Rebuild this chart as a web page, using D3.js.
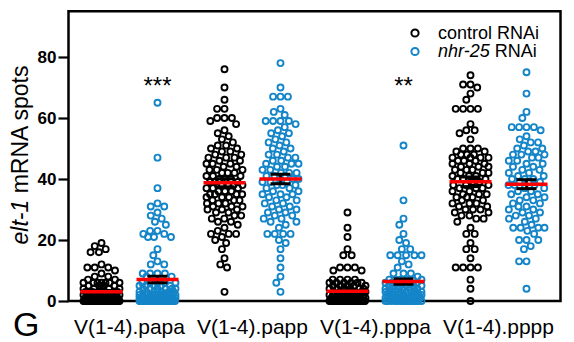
<!DOCTYPE html>
<html>
<head>
<meta charset="utf-8">
<script src="https://cdn.jsdelivr.net/npm/d3@7"></script>
<style>
  html, body { margin: 0; padding: 0; background: #fff; }
  svg { display: block; font-family: "Liberation Sans", Arial, sans-serif; }
</style>
</head>
<body>
<svg id="chart" width="574" height="342"></svg>
<script>
// ---------------- DATA ----------------
const categories = ["V(1-4).papa", "V(1-4).papp", "V(1-4).pppa", "V(1-4).pppp"];
const seriesNames = ["control RNAi", "nhr-25 RNAi"];
const yTicks = [0, 20, 40, 60, 80];
const significance = ["***", "", "**", ""];

const papaControl = [19,18,17,16,16,12,11,11,11,10,9,8,8,7,7,6,6,6,6,6,6,6,
  5,5,5,5,4,4,4,4,4,3,3,3,3,3,3,3,2,2,2,2,2,2,2,2,2,2,
  1,1,1,1,1,1,1,1,1,1,1,1,1,1,
  0,0,0,0,0,0,0,0,0,0,0,0,0,0,0,0,0,0,0,0,0,0,0,0,0,0,0,0,0,0,
  0,0,0,0,0,0,0,0,0,0,0,0,0];
const papaNhr25 = [65,47,37,32,31,31,29,28,27,26,25,23,23,22,22,21,21,21,17,15,13,12,12,9,9,9,9,8,8,
  6,6,6,6,6,5,5,5,5,5,4,4,4,4,4,4,3,3,3,3,3,3,3,2,2,2,2,2,2,2,2,2,2,2,2,
  1,1,1,1,1,1,1,1,1,1,1,1,1,1,
  0,0,0,0,0,0,0,0,0,0,0,0,0,0,0,0,0,0,0,0,0,0,0,0,0,0,0,0,0,0,0,0,0,0];
const pappControl = [76,70,66,63,63,60,60,60,59,58,56,55,54,53,52,51,51,50,50,49,
  49,48,48,47,47,47,46,46,45,45,45,44,44,43,43,43,42,42,42,41,41,41,40,40,40,
  39,39,39,38,38,38,38,37,37,37,36,36,36,35,35,35,35,34,34,34,33,33,33,32,32,
  32,31,31,31,30,30,30,29,29,28,28,27,27,26,26,25,24,23,22,22,22,21,20,19,17,14,12,11,3];
const pappNhr25 = [78,70,67,67,67,63,62,61,59,59,59,59,58,57,56,55,55,54,53,52,52,51,50,50,49,48,48,
  47,47,46,46,45,45,45,44,44,43,43,42,42,42,41,41,41,40,40,40,39,39,39,38,38,38,37,37,
  36,36,35,35,35,34,34,33,33,32,32,31,31,30,30,29,29,28,28,27,27,26,26,25,24,
  22,22,22,22,20,19,17,14,11,8,6,3];
const pppaControl = [29,24,21,17,15,15,11,11,11,10,10,7,7,7,7,6,6,6,6,6,6,
  5,5,5,5,5,4,4,4,4,4,4,3,3,3,3,3,3,3,2,2,2,2,2,2,2,2,2,2,
  1,1,1,1,1,1,1,1,1,1,1,1,
  0,0,0,0,0,0,0,0,0,0,0,0,0,0,0,0,0,0,0,0,0,0,0,0,0,0,0,0,0,0,
  0,0,0,0,0,0,0,0,0,0,0,0,0,0,0];
const pppaNhr25 = [51,33,27,25,22,20,19,17,17,15,15,15,15,15,13,12,11,9,9,9,8,7,7,7,7,7,7,
  6,6,6,6,6,6,5,5,5,5,5,5,4,4,4,4,4,4,4,3,3,3,3,3,3,3,3,
  2,2,2,2,2,2,2,2,2,2,1,1,1,1,1,1,1,1,1,1,
  0,0,0,0,0,0,0,0,0,0,0,0,0,0,0];
const ppppControl = [74,71,71,70,68,66,63,63,63,63,58,56,56,55,53,50,50,50,49,49,48,48,48,47,47,47,47,
  46,46,46,45,45,45,44,44,44,43,43,43,42,42,42,41,41,41,40,40,40,39,39,38,38,38,
  37,37,37,36,36,35,35,35,34,34,34,33,33,32,32,32,31,31,30,30,30,29,29,28,28,27,27,
  26,24,22,22,19,17,17,14,11,11,11,11,7,4,0];
const ppppNhr25 = [75,68,62,60,57,57,57,57,56,54,53,52,52,51,50,50,49,49,48,48,48,47,47,46,46,45,45,
  44,44,43,43,42,42,41,41,40,40,40,39,39,39,38,38,38,37,37,36,36,35,35,34,34,33,33,
  32,32,31,31,30,30,29,29,28,28,27,27,26,25,24,24,24,24,23,22,20,20,20,18,17,13,13,4];

const controlSeries = [papaControl, pappControl, pppaControl, ppppControl];
const nhr25Series = [papaNhr25, pappNhr25, pppaNhr25, ppppNhr25];
const seriesColors = ["#000000", "#1485c8"];

// ---------------- LAYOUT ----------------
const svg = d3.select("#chart");
const plotLeft = 68.5, plotRight = 560.5, plotBottom = 301;

const y = d3.scaleLinear().domain([0, 80]).range([plotBottom, 57]);
const yTop = y(95);
const x = d3.scaleBand().domain(categories).range([68, 560]);
const xSub = d3.scalePoint().domain(seriesNames).range([-28, 28]);

// frame
svg.append("rect")
  .attr("x", plotLeft).attr("y", yTop)
  .attr("width", plotRight - plotLeft).attr("height", plotBottom - yTop)
  .attr("fill", "none").attr("stroke", "#000").attr("stroke-width", 2.5);

// y axis
const yAxis = svg.append("g")
  .attr("transform", `translate(${plotLeft},0)`)
  .call(d3.axisLeft(y).tickValues(yTicks).tickSize(10).tickPadding(2).tickFormat(d3.format("d")));
yAxis.select(".domain").remove();
yAxis.selectAll(".tick line").attr("stroke", "#000").attr("stroke-width", 2.2);
yAxis.selectAll(".tick text")
  .attr("fill", "#000").style("font-size", "17px").style("font-weight", "bold")
  .style("font-family", "'Liberation Sans', Arial, sans-serif");

// y label
const yl = svg.append("text")
  .attr("transform", "translate(28,155) rotate(-90)")
  .attr("text-anchor", "middle").style("font-size", "23px").attr("fill", "#000");
yl.append("tspan").style("font-style", "italic").text("elt-1");
yl.append("tspan").text(" mRNA spots");

// x labels
svg.append("g").selectAll("text").data(categories).join("text")
  .attr("x", d => x(d) + x.bandwidth() / 2)
  .attr("y", 334)
  .attr("text-anchor", "middle").style("font-size", "21px").attr("fill", "#000")
  .text(d => d);

// panel letter
svg.append("text").attr("x", 13).attr("y", 336).style("font-size", "34px").attr("fill", "#000").text("G");

// beeswarm layout
const R = 3, D = 7.4, MAXHALF = 18;
function swarm(values) {
  const pts = values.map(v => ({ v, py: y(v) })).sort((a, b) => b.v - a.v);
  const placed = [];
  for (const p of pts) {
    const near = placed.filter(q => Math.abs(q.py - p.py) < D);
    const cands = [0];
    for (const q of near) {
      const dx = Math.sqrt(D * D - (q.py - p.py) ** 2);
      cands.push(q.x + dx, q.x - dx);
    }
    cands.sort((a, b) => Math.abs(a) - Math.abs(b) || a - b);
    let chosen = null;
    for (const c of cands) {
      if (Math.abs(c) > MAXHALF + 1e-6) continue;
      if (near.every(q => Math.hypot(q.x - c, q.py - p.py) >= D - 1e-6)) { chosen = c; break; }
    }
    if (chosen === null) {
      let best = -1, bestX = 0;
      for (let c = -MAXHALF; c <= MAXHALF + 1e-9; c += 0.5) {
        let md = Infinity;
        for (const q of near) md = Math.min(md, Math.hypot(q.x - c, q.py - p.py));
        if (md > best + 1e-9 || (Math.abs(md - best) < 1e-9 && Math.abs(c) < Math.abs(bestX))) { best = md; bestX = c; }
      }
      chosen = bestX;
    }
    p.x = chosen;
    placed.push(p);
  }
  return placed;
}

const allSeries = [controlSeries, nhr25Series];
const pointsG = svg.append("g");
const statsG = svg.append("g");
allSeries.forEach((ser, si) => {
  ser.forEach((vals, ci) => {
    const cx = x(categories[ci]) + x.bandwidth() / 2 + xSub(seriesNames[si]);
    const pts = swarm(vals);
    pointsG.append("g").selectAll("circle").data(pts).join("circle")
      .attr("cx", d => cx + d.x).attr("cy", d => d.py).attr("r", R)
      .attr("fill", "none").attr("stroke", seriesColors[si]).attr("stroke-width", 1.9);

    const m = d3.mean(vals);
    const sem = d3.deviation(vals) / Math.sqrt(vals.length);
    // SEM error bar
    statsG.append("line").attr("x1", cx).attr("x2", cx).attr("y1", y(m - sem)).attr("y2", y(m + sem))
      .attr("stroke", "#000").attr("stroke-width", 2.5);
    [m - sem, m + sem].forEach(v => {
      statsG.append("line").attr("x1", cx - 10).attr("x2", cx + 10).attr("y1", y(v)).attr("y2", y(v))
        .attr("stroke", "#000").attr("stroke-width", 3);
    });
    // mean line
    statsG.append("line").attr("x1", cx - 21).attr("x2", cx + 21).attr("y1", y(m)).attr("y2", y(m))
      .attr("stroke", "#ff0000").attr("stroke-width", 3.5);
  });
});

// significance stars
svg.append("g").selectAll("text").data(categories).join("text")
  .attr("x", d => x(d) + x.bandwidth() / 2 + xSub(seriesNames[1]))
  .attr("y", 94).attr("text-anchor", "middle").style("font-size", "24px").attr("fill", "#000")
  .text((d, i) => significance[i]);

// legend
const legend = svg.append("g");
seriesNames.forEach((s, i) => {
  const ly = 33 + i * 18.5;
  legend.append("circle").attr("cx", 415).attr("cy", ly).attr("r", 3.6)
    .attr("fill", "none").attr("stroke", seriesColors[i]).attr("stroke-width", 2);
  const t = legend.append("text").attr("x", 438).attr("y", ly + 5.5).style("font-size", "18px").attr("fill", "#000");
  if (i === 0) t.text(s);
  else {
    t.append("tspan").style("font-style", "italic").text("nhr-25");
    t.append("tspan").text(" RNAi");
  }
});
</script>
</body>
</html>
